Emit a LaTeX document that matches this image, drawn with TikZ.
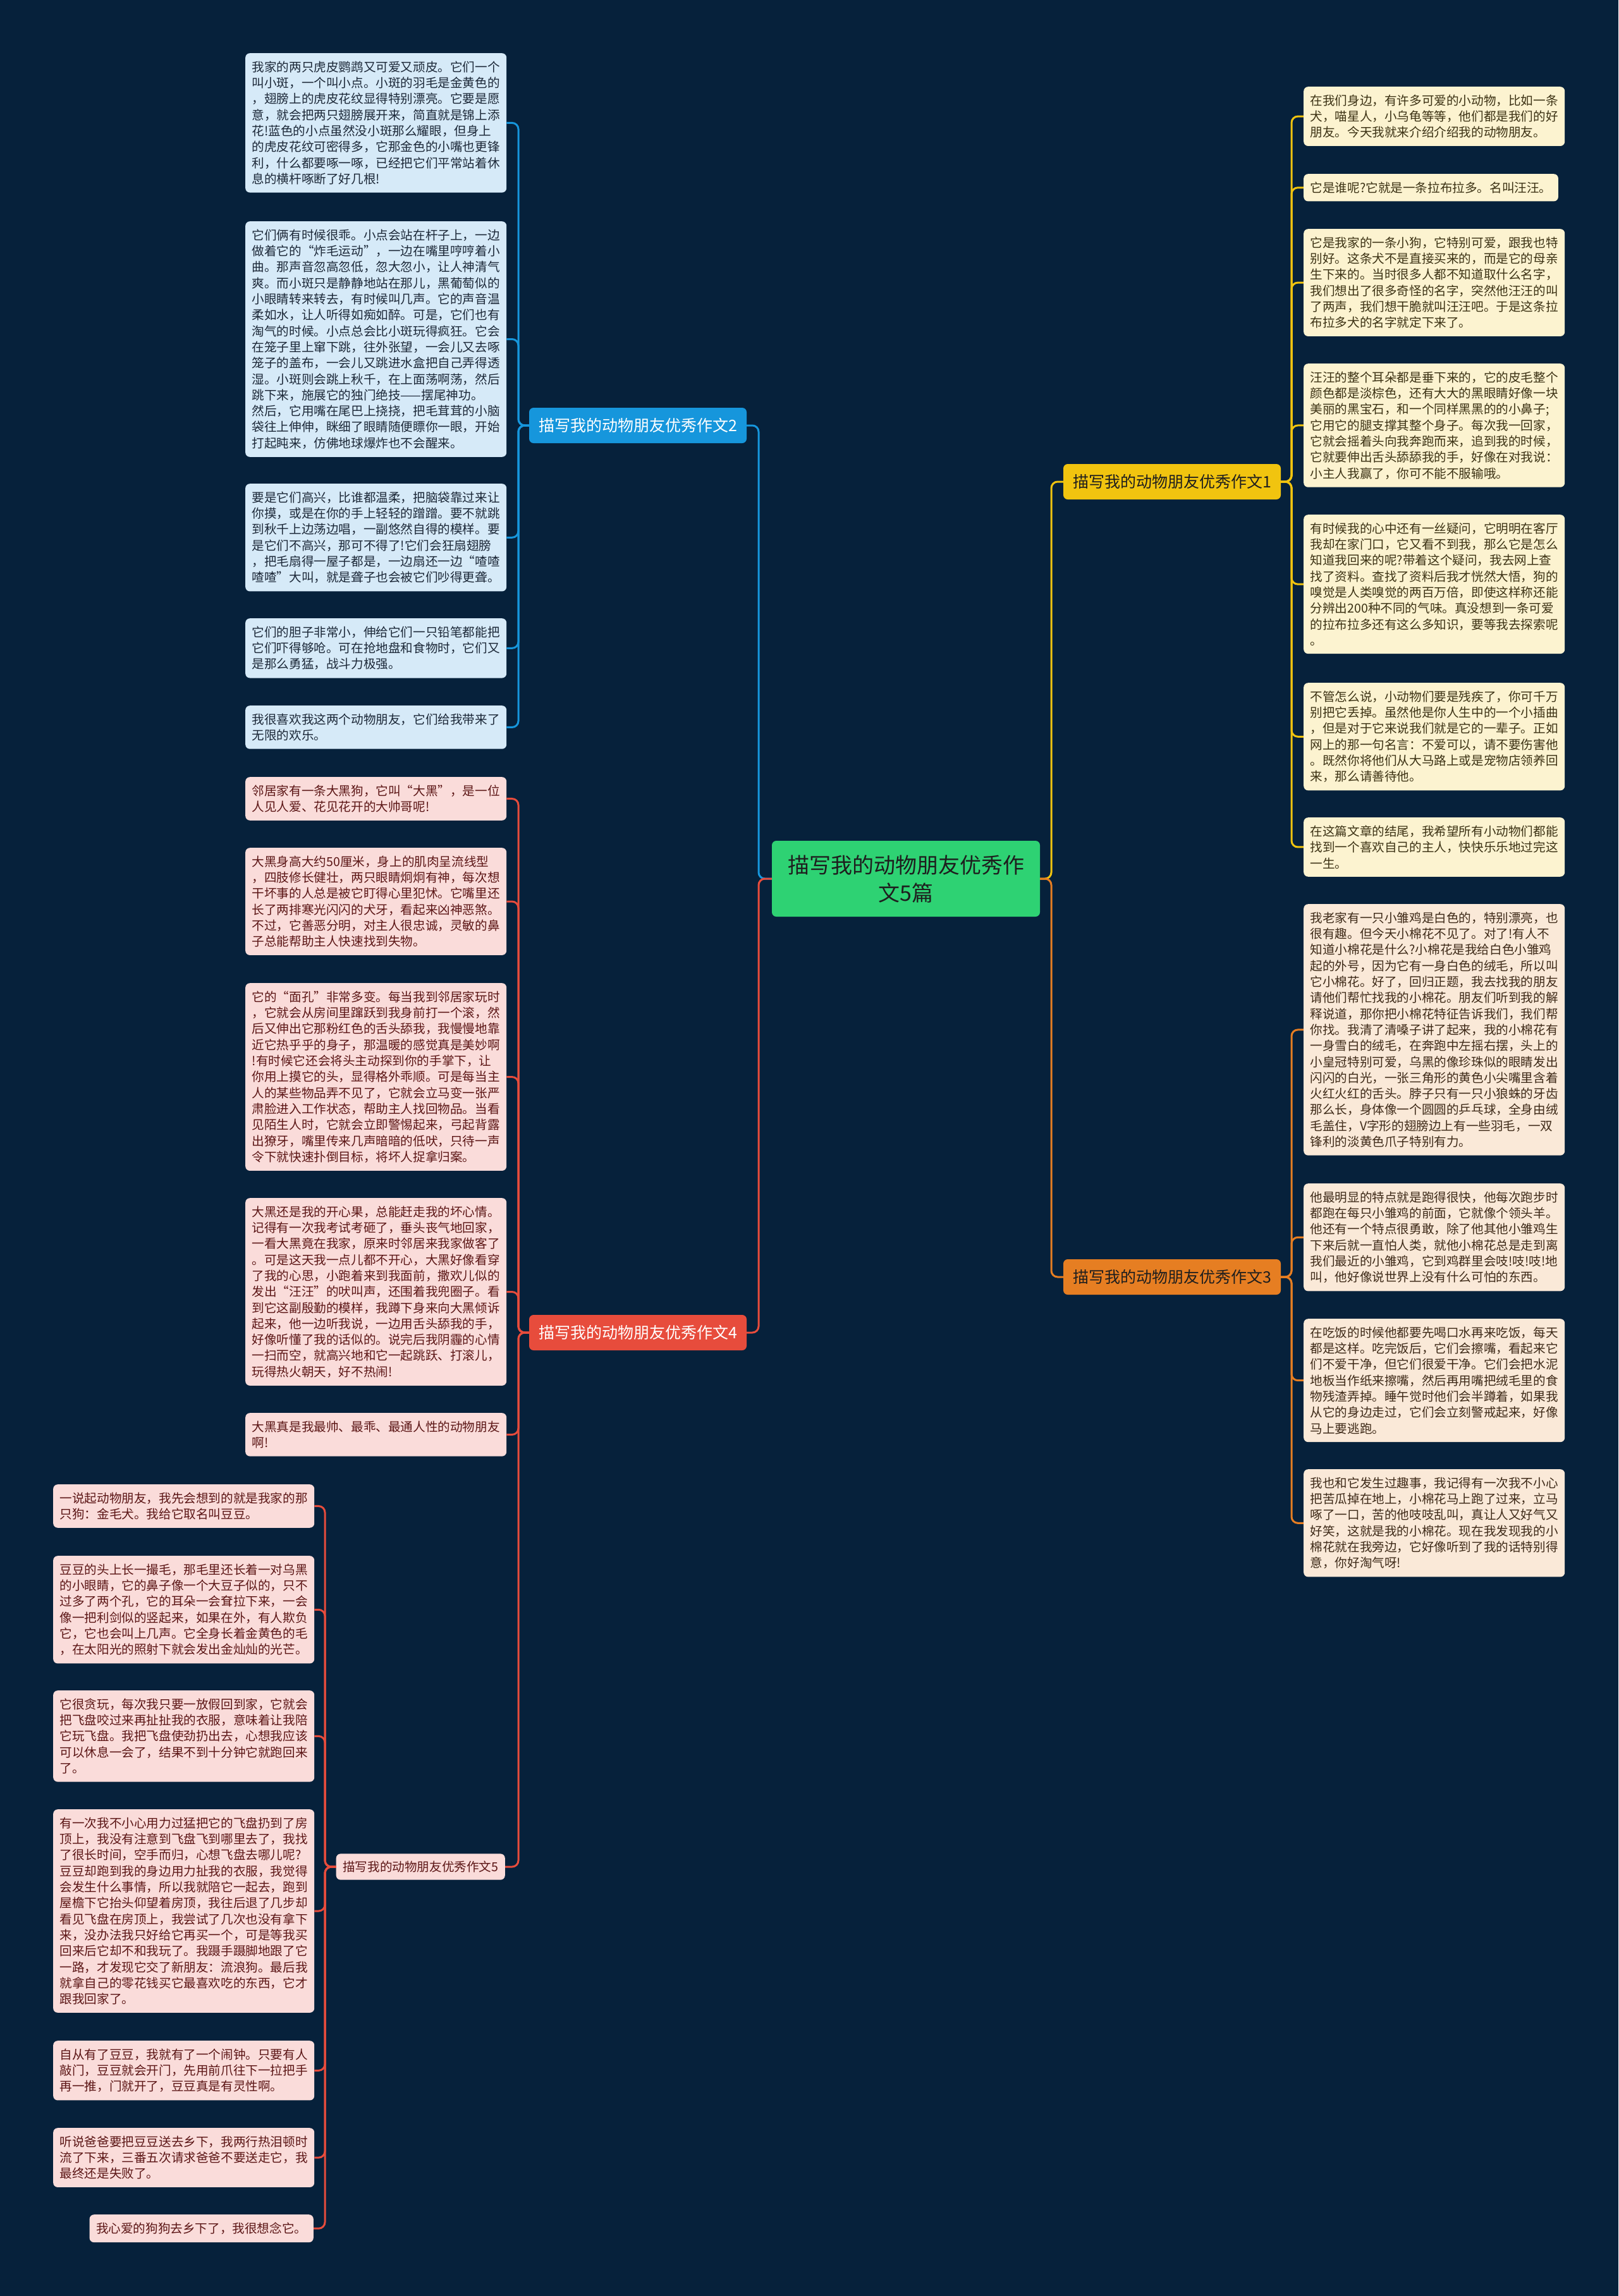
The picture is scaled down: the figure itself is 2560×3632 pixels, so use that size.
\documentclass[tikz,border=0pt]{standalone}
\usepackage{fontspec}
\newfontfamily\cjk{Noto Sans CJK SC}
\definecolor{bg}{RGB}{6,33,59}
\definecolor{cgreen}{RGB}{46,210,115}
\definecolor{cyellow}{RGB}{241,196,15}
\definecolor{corange}{RGB}{230,126,34}
\definecolor{cblue}{RGB}{22,150,220}
\definecolor{cred}{RGB}{231,76,60}
\definecolor{fblue}{RGB}{214,234,248}
\definecolor{fpink}{RGB}{250,220,218}
\definecolor{fcream}{RGB}{252,243,208}
\definecolor{fpeach}{RGB}{250,233,216}
\definecolor{tblue}{RGB}{28,40,56}
\definecolor{tpink}{RGB}{92,22,22}
\definecolor{tcream}{RGB}{60,50,20}
\definecolor{tpeach}{RGB}{62,42,24}
\definecolor{tdark}{RGB}{30,30,30}
\tikzset{
  tb/.style={rectangle, rounded corners=7pt, text width=392pt, align=left, inner xsep=10.5pt, inner ysep=12.5pt, anchor=north west, font=\fontsize{19.6}{25.3}\selectfont\cjk},
  tbn/.style={rectangle, rounded corners=7pt, inner xsep=10.5pt, inner ysep=12.5pt, font=\fontsize{19.6}{25.3}\selectfont\cjk},
  tbblue/.style={tb, fill=fblue, text=tblue},
  tbpink/.style={tb, fill=fpink, text=tpink},
  tbcream/.style={tb, fill=fcream, text=tcream},
  tbpeach/.style={tb, fill=fpeach, text=tpeach},
  branch/.style={rectangle, rounded corners=7pt, minimum width=344pt, minimum height=56pt, inner sep=0pt, font=\fontsize{25}{30}\selectfont\cjk},
  conn/.style={line width=3pt, rounded corners=10pt},
}
\begin{document}
\begin{tikzpicture}[x=1pt,y=-1pt]
\fill[bg] (0,0) rectangle (2560,3632);
\useasboundingbox (0,0) rectangle (2560,3632);

% center
\node[rectangle, rounded corners=7pt, fill=cgreen, text=tdark, minimum width=424pt, minimum height=120pt, align=center, font=\fontsize{34}{44}\selectfont\cjk] (ctr) at (1433,1390) {描写我的动物朋友优秀作\\文5篇};

% branches
\node[branch, fill=cyellow, text=tdark] (b1) at (1854,762) {描写我的动物朋友优秀作文1};
\node[branch, fill=cblue, text=white] (b2) at (1009,673) {描写我的动物朋友优秀作文2};
\node[branch, fill=corange, text=tdark] (b3) at (1854,2020) {描写我的动物朋友优秀作文3};
\node[branch, fill=cred, text=white] (b4) at (1009,2108) {描写我的动物朋友优秀作文4};
\node[tbn, fill=fpink, text=tpink, inner ysep=11.5pt, anchor=east] (b5) at (799,2953) {描写我的动物朋友优秀作文5};

\coordinate (jl) at (1200,0);
\coordinate (jr) at (1663,0);
\coordinate (jleft) at (820,0);
\coordinate (jright) at (2043,0);
\coordinate (j5) at (514,0);

% branch 2 children
\node[tbblue] (t2a) at (388,84) {我家的两只虎皮鹦鹉又可爱又顽皮。它们一个\\叫小斑，一个叫小点。小斑的羽毛是金黄色的\\，翅膀上的虎皮花纹显得特别漂亮。它要是愿\\意，就会把两只翅膀展开来，简直就是锦上添\\花!蓝色的小点虽然没小斑那么耀眼，但身上\\的虎皮花纹可密得多，它那金色的小嘴也更锋\\利，什么都要啄一啄，已经把它们平常站着休\\息的横杆啄断了好几根!};
\node[tbblue] (t2b) at (388,350) {它们俩有时候很乖。小点会站在杆子上，一边\\做着它的“炸毛运动”，一边在嘴里哼哼着小\\曲。那声音忽高忽低，忽大忽小，让人神清气\\爽。而小斑只是静静地站在那儿，黑葡萄似的\\小眼睛转来转去，有时候叫几声。它的声音温\\柔如水，让人听得如痴如醉。可是，它们也有\\淘气的时候。小点总会比小斑玩得疯狂。它会\\在笼子里上窜下跳，往外张望，一会儿又去啄\\笼子的盖布，一会儿又跳进水盒把自己弄得透\\湿。小斑则会跳上秋千，在上面荡啊荡，然后\\跳下来，施展它的独门绝技——摆尾神功。\\然后，它用嘴在尾巴上挠挠，把毛茸茸的小脑\\袋往上伸伸，眯细了眼睛随便瞟你一眼，开始\\打起盹来，仿佛地球爆炸也不会醒来。};
\node[tbblue] (t2c) at (388,765) {要是它们高兴，比谁都温柔，把脑袋靠过来让\\你摸，或是在你的手上轻轻的蹭蹭。要不就跳\\到秋千上边荡边唱，一副悠然自得的模样。要\\是它们不高兴，那可不得了!它们会狂扇翅膀\\，把毛扇得一屋子都是，一边扇还一边“喳喳\\喳喳”大叫，就是聋子也会被它们吵得更聋。};
\node[tbblue] (t2d) at (388,978) {它们的胆子非常小，伸给它们一只铅笔都能把\\它们吓得够呛。可在抢地盘和食物时，它们又\\是那么勇猛，战斗力极强。};
\node[tbblue] (t2e) at (388,1116) {我很喜欢我这两个动物朋友，它们给我带来了\\无限的欢乐。};

% branch 4 children
\node[tbpink] (t4a) at (388,1229) {邻居家有一条大黑狗，它叫“大黑”，是一位\\人见人爱、花见花开的大帅哥呢!};
\node[tbpink] (t4b) at (388,1341) {大黑身高大约50厘米，身上的肌肉呈流线型\\，四肢修长健壮，两只眼睛炯炯有神，每次想\\干坏事的人总是被它盯得心里犯怵。它嘴里还\\长了两排寒光闪闪的犬牙，看起来凶神恶煞。\\不过，它善恶分明，对主人很忠诚，灵敏的鼻\\子总能帮助主人快速找到失物。};
\node[tbpink] (t4c) at (388,1555) {它的“面孔”非常多变。每当我到邻居家玩时\\，它就会从房间里蹿跃到我身前打一个滚，然\\后又伸出它那粉红色的舌头舔我，我慢慢地靠\\近它热乎乎的身子，那温暖的感觉真是美妙啊\\!有时候它还会将头主动探到你的手掌下，让\\你用上摸它的头，显得格外乖顺。可是每当主\\人的某些物品弄不见了，它就会立马变一张严\\肃脸进入工作状态，帮助主人找回物品。当看\\见陌生人时，它就会立即警惕起来，弓起背露\\出獠牙，嘴里传来几声暗暗的低吠，只待一声\\令下就快速扑倒目标，将坏人捉拿归案。};
\node[tbpink] (t4d) at (388,1895) {大黑还是我的开心果，总能赶走我的坏心情。\\记得有一次我考试考砸了，垂头丧气地回家，\\一看大黑竟在我家，原来时邻居来我家做客了\\。可是这天我一点儿都不开心，大黑好像看穿\\了我的心思，小跑着来到我面前，撒欢儿似的\\发出“汪汪”的吠叫声，还围着我兜圈子。看\\到它这副殷勤的模样，我蹲下身来向大黑倾诉\\起来，他一边听我说，一边用舌头舔我的手，\\好像听懂了我的话似的。说完后我阴霾的心情\\一扫而空，就高兴地和它一起跳跃、打滚儿，\\玩得热火朝天，好不热闹!};
\node[tbpink] (t4e) at (388,2235) {大黑真是我最帅、最乖、最通人性的动物朋友\\啊!};

% branch 5 children
\node[tbpink] (t5a) at (84,2348) {一说起动物朋友，我先会想到的就是我家的那\\只狗：金毛犬。我给它取名叫豆豆。};
\node[tbpink] (t5b) at (84,2461) {豆豆的头上长一撮毛，那毛里还长着一对乌黑\\的小眼睛，它的鼻子像一个大豆子似的，只不\\过多了两个孔，它的耳朵一会耷拉下来，一会\\像一把利剑似的竖起来，如果在外，有人欺负\\它，它也会叫上几声。它全身长着金黄色的毛\\，在太阳光的照射下就会发出金灿灿的光芒。};
\node[tbpink] (t5c) at (84,2674) {它很贪玩，每次我只要一放假回到家，它就会\\把飞盘咬过来再扯扯我的衣服，意味着让我陪\\它玩飞盘。我把飞盘使劲扔出去，心想我应该\\可以休息一会了，结果不到十分钟它就跑回来\\了。};
\node[tbpink] (t5d) at (84,2862) {有一次我不小心用力过猛把它的飞盘扔到了房\\顶上，我没有注意到飞盘飞到哪里去了，我找\\了很长时间，空手而归，心想飞盘去哪儿呢?\\豆豆却跑到我的身边用力扯我的衣服，我觉得\\会发生什么事情，所以我就陪它一起去，跑到\\屋檐下它抬头仰望着房顶，我往后退了几步却\\看见飞盘在房顶上，我尝试了几次也没有拿下\\来，没办法我只好给它再买一个，可是等我买\\回来后它却不和我玩了。我蹑手蹑脚地跟了它\\一路，才发现它交了新朋友：流浪狗。最后我\\就拿自己的零花钱买它最喜欢吃的东西，它才\\跟我回家了。};
\node[tbpink] (t5e) at (84,3228) {自从有了豆豆，我就有了一个闹钟。只要有人\\敲门，豆豆就会开门，先用前爪往下一拉把手\\再一推，门就开了，豆豆真是有灵性啊。};
\node[tbpink] (t5f) at (84,3366) {听说爸爸要把豆豆送去乡下，我两行热泪顿时\\流了下来，三番五次请求爸爸不要送走它，我\\最终还是失败了。};
\node[tbn, fill=fpink, text=tpink, anchor=north east] (t5g) at (496,3503) {我心爱的狗狗去乡下了，我很想念它。};

% branch 1 children
\node[tbcream] (t1a) at (2062,137) {在我们身边，有许多可爱的小动物，比如一条\\犬，喵星人，小乌龟等等，他们都是我们的好\\朋友。今天我就来介绍介绍我的动物朋友。};
\node[tbn, fill=fcream, text=tcream, anchor=north west] (t1b) at (2062,275) {它是谁呢?它就是一条拉布拉多。名叫汪汪。};
\node[tbcream] (t1c) at (2062,362) {它是我家的一条小狗，它特别可爱，跟我也特\\别好。这条犬不是直接买来的，而是它的母亲\\生下来的。当时很多人都不知道取什么名字，\\我们想出了很多奇怪的名字，突然他汪汪的叫\\了两声，我们想干脆就叫汪汪吧。于是这条拉\\布拉多犬的名字就定下来了。};
\node[tbcream] (t1d) at (2062,575) {汪汪的整个耳朵都是垂下来的，它的皮毛整个\\颜色都是淡棕色，还有大大的黑眼睛好像一块\\美丽的黑宝石，和一个同样黑黑的的小鼻子;\\它用它的腿支撑其整个身子。每次我一回家，\\它就会摇着头向我奔跑而来，追到我的时候，\\它就要伸出舌头舔舔我的手，好像在对我说：\\小主人我赢了，你可不能不服输哦。};
\node[tbcream] (t1e) at (2062,814) {有时候我的心中还有一丝疑问，它明明在客厅\\我却在家门口，它又看不到我，那么它是怎么\\知道我回来的呢?带着这个疑问，我去网上查\\找了资料。查找了资料后我才恍然大悟，狗的\\嗅觉是人类嗅觉的两百万倍，即使这样称还能\\分辨出200种不同的气味。真没想到一条可爱\\的拉布拉多还有这么多知识，要等我去探索呢\\。};
\node[tbcream] (t1f) at (2062,1080) {不管怎么说，小动物们要是残疾了，你可千万\\别把它丢掉。虽然他是你人生中的一个小插曲\\，但是对于它来说我们就是它的一辈子。正如\\网上的那一句名言：不爱可以，请不要伤害他\\。既然你将他们从大马路上或是宠物店领养回\\来，那么请善待他。};
\node[tbcream] (t1g) at (2062,1293) {在这篇文章的结尾，我希望所有小动物们都能\\找到一个喜欢自己的主人，快快乐乐地过完这\\一生。};

% branch 3 children
\node[tbpeach] (t3a) at (2062,1430) {我老家有一只小雏鸡是白色的，特别漂亮，也\\很有趣。但今天小棉花不见了。对了!有人不\\知道小棉花是什么?小棉花是我给白色小雏鸡\\起的外号，因为它有一身白色的绒毛，所以叫\\它小棉花。好了，回归正题，我去找我的朋友\\请他们帮忙找我的小棉花。朋友们听到我的解\\释说道，那你把小棉花特征告诉我们，我们帮\\你找。我清了清嗓子讲了起来，我的小棉花有\\一身雪白的绒毛，在奔跑中左摇右摆，头上的\\小皇冠特别可爱，乌黑的像珍珠似的眼睛发出\\闪闪的白光，一张三角形的黄色小尖嘴里含着\\火红火红的舌头。脖子只有一只小狼蛛的牙齿\\那么长，身体像一个圆圆的乒乓球，全身由绒\\毛盖住，V字形的翅膀边上有一些羽毛，一双\\锋利的淡黄色爪子特别有力。};
\node[tbpeach] (t3b) at (2062,1872) {他最明显的特点就是跑得很快，他每次跑步时\\都跑在每只小雏鸡的前面，它就像个领头羊。\\他还有一个特点很勇敢，除了他其他小雏鸡生\\下来后就一直怕人类，就他小棉花总是走到离\\我们最近的小雏鸡，它到鸡群里会吱!吱!吱!地\\叫，他好像说世界上没有什么可怕的东西。};
\node[tbpeach] (t3c) at (2062,2086) {在吃饭的时候他都要先喝口水再来吃饭，每天\\都是这样。吃完饭后，它们会擦嘴，看起来它\\们不爱干净，但它们很爱干净。它们会把水泥\\地板当作纸来擦嘴，然后再用嘴把绒毛里的食\\物残渣弄掉。睡午觉时他们会半蹲着，如果我\\从它的身边走过，它们会立刻警戒起来，好像\\马上要逃跑。};
\node[tbpeach] (t3d) at (2062,2324) {我也和它发生过趣事，我记得有一次我不小心\\把苦瓜掉在地上，小棉花马上跑了过来，立马\\啄了一口，苦的他吱吱乱叫，真让人又好气又\\好笑，这就是我的小棉花。现在我发现我的小\\棉花就在我旁边，它好像听到了我的话特别得\\意，你好淘气呀!};

% connectors center
\draw[conn, cblue] (ctr.west) -- (jl |- ctr.west) -- (jl |- b2.east) -- (b2.east);
\draw[conn, cred] (ctr.west) -- (jl |- ctr.west) -- (jl |- b4.east) -- (b4.east);
\draw[conn, cyellow] (ctr.east) -- (jr |- ctr.east) -- (jr |- b1.west) -- (b1.west);
\draw[conn, corange] (ctr.east) -- (jr |- ctr.east) -- (jr |- b3.west) -- (b3.west);

% branch connectors
\foreach \n in {t2a,t2b,t2c,t2d,t2e}
  \draw[conn, cblue] (b2.west) -- (jleft |- b2.west) -- (jleft |- \n.east) -- (\n.east);
\foreach \n in {t4a,t4b,t4c,t4d,t4e,b5}
  \draw[conn, cred] (b4.west) -- (jleft |- b4.west) -- (jleft |- \n.east) -- (\n.east);
\foreach \n in {t5a,t5b,t5c,t5d,t5e,t5f,t5g}
  \draw[conn, cred] (b5.west) -- (j5 |- b5.west) -- (j5 |- \n.east) -- (\n.east);
\foreach \n in {t1a,t1b,t1c,t1d,t1e,t1f,t1g}
  \draw[conn, cyellow] (b1.east) -- (jright |- b1.east) -- (jright |- \n.west) -- (\n.west);
\foreach \n in {t3a,t3b,t3c,t3d}
  \draw[conn, corange] (b3.east) -- (jright |- b3.east) -- (jright |- \n.west) -- (\n.west);
\end{tikzpicture}
\end{document}
